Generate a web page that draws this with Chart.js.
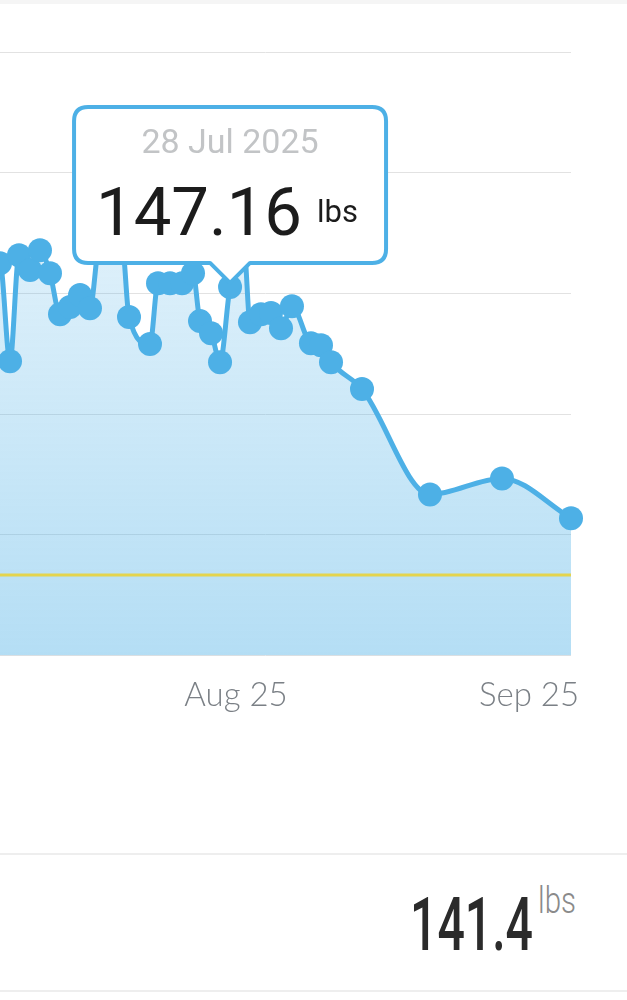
<!DOCTYPE html>
<html>
<head>
<meta charset="utf-8">
<script src="https://cdn.jsdelivr.net/npm/chart.js@4"></script>
<style>
  html, body { margin: 0; padding: 0; background: #fff; width: 627px; height: 1000px; overflow: hidden; }
  #topBand { position: absolute; left: 0; top: 0; width: 627px; height: 4px; background: #f5f5f5; }
  #chartWrap { position: absolute; left: -40px; top: 0; width: 667px; height: 740px; }
  #tip { position: absolute; left: 0; top: 0; overflow: visible; pointer-events: none; }
  .sep { position: absolute; left: 0; width: 627px; height: 2px; background: #eeeeee; }
  #current { position: absolute; left: 0; top: 860px; }
</style>
</head>
<body>
<div id="topBand"></div>
<div id="chartWrap"><canvas id="weightChart"></canvas></div>
<svg id="tip" width="627" height="400"></svg>
<div class="sep" style="top:853px"></div>
<svg id="current" width="627" height="130">
  <text id="currentValue" x="410" y="90" font-family="Roboto" font-weight="500" font-size="75" fill="#2b2b2b" textLength="123" lengthAdjust="spacingAndGlyphs"></text>
  <text x="538" y="53" font-family="Roboto" font-weight="300" font-size="36" fill="#8a8a8a" textLength="38" lengthAdjust="spacingAndGlyphs">lbs</text>
</svg>
<div class="sep" style="top:990px"></div>

<script>
// days counted from 1 Aug 2025
var days = [-26.24, -24.97, -23.91, -22.96, -21.79, -20.74, -19.68, -18.62, -17.56, -16.50,
  -15.45, -14.39, -13.12, -12.06, -11.32, -9.10, -8.25, -6.98, -5.71, -4.55,
  -3.81, -2.64, -1.69, -0.63, 0.85, 1.48, 2.64, 3.70, 4.76, 5.92,
  7.93, 8.99, 10.05, 13.33, 20.52, 28.14, 35.44]
var weights = [147.08, 147.75, 145.31, 147.95, 147.58, 148.07, 147.50, 146.48, 146.66, 146.96,
  146.63, 148.37, 148.52, 148.32, 146.41, 145.74, 147.25, 147.25, 147.25, 147.50,
  146.31, 146.01, 145.29, 147.16, 148.12, 146.28, 146.48, 146.51, 146.13, 146.68,
  145.76, 145.71, 145.29, 144.62, 142.00, 142.40, 141.41]
var goalWeight = 140
var tickDays = [0, 31]
var tickLabels = ['Aug 25', 'Sep 25']
var xMin = -29.2, xMax = 35.44
var yMin = 138, yMax = 153, yStep = 3
var tooltipIndex = 23
var tooltipDate = '28 Jul 2025'
var latestWeight = '141.4'

var blue = '#4db0e6'

function createChart() {
  const ctx = document.getElementById('weightChart')
  const points = days.map(function (d, i) { return { x: d, y: weights[i] } })

  const chart = new Chart(ctx, {
    type: 'line',
    data: {
      datasets: [
        {
          // goal line
          data: [{ x: xMin, y: goalWeight }, { x: xMax, y: goalWeight }],
          borderColor: '#e4d44e',
          borderWidth: 3,
          pointRadius: 0,
          fill: false,
        },
        {
          data: points,
          borderColor: blue,
          borderWidth: 5,
          pointRadius: 12,
          pointBackgroundColor: blue,
          pointBorderWidth: 0,
          cubicInterpolationMode: 'monotone',
          clip: false,
          fill: 'start',
          backgroundColor: function (c) {
            const area = c.chart.chartArea
            if (!area) return 'rgba(77,176,230,0.3)'
            const g = c.chart.ctx.createLinearGradient(0, area.top, 0, area.bottom)
            g.addColorStop(0, 'rgba(77,176,230,0.08)')
            g.addColorStop(1, 'rgba(77,176,230,0.42)')
            return g
          },
        },
      ],
    },
    options: {
      responsive: true,
      maintainAspectRatio: false,
      animation: false,
      events: [],
      layout: { autoPadding: false, padding: { left: 0, right: 56, top: 52, bottom: 13 } },
      scales: {
        x: {
          type: 'linear',
          min: xMin,
          max: xMax,
          grid: { display: false },
          border: { display: false },
          afterBuildTicks: function (s) {
            s.ticks = tickDays.map(function (v) { return { value: v } })
          },
          ticks: {
            autoSkip: false,
            maxRotation: 0,
            padding: 12,
            color: '#7b8086',
            font: { family: 'Lato', size: 33, weight: '300' },
            callback: function (v) { return tickLabels[tickDays.indexOf(v)] },
          },
        },
        y: {
          min: yMin,
          max: yMax,
          afterFit: function (s) { s.width = 0 },
          ticks: { stepSize: yStep, display: false },
          grid: { color: '#e2e2e2', drawTicks: false },
          border: { display: false },
        },
      },
      plugins: {
        legend: { display: false },
        tooltip: { enabled: false },
      },
    },
  })
  return chart
}

// speech-bubble label above the selected point
function drawTooltip(chart) {
  const pt = chart.getDatasetMeta(1).data[tooltipIndex]
  const offX = document.getElementById('chartWrap').offsetLeft
  const tx = pt.x + offX, ty = pt.y - 4
  const w = 312, h = 156, r = 14, cw = 20, ch = 20
  const L = tx - w / 2, R = tx + w / 2, B = ty - ch, T = B - h
  const d = 'M' + (L + r) + ' ' + T + ' H' + (R - r) + ' Q' + R + ' ' + T + ' ' + R + ' ' + (T + r) +
    ' V' + (B - r) + ' Q' + R + ' ' + B + ' ' + (R - r) + ' ' + B +
    ' H' + (tx + cw) + ' L' + tx + ' ' + ty + ' L' + (tx - cw) + ' ' + B +
    ' H' + (L + r) + ' Q' + L + ' ' + B + ' ' + L + ' ' + (B - r) +
    ' V' + (T + r) + ' Q' + L + ' ' + T + ' ' + (L + r) + ' ' + T + ' Z'
  const svg = document.getElementById('tip')
  svg.innerHTML =
    '<path d="' + d + '" fill="#fff" stroke="' + blue + '" stroke-width="4" stroke-linejoin="round"/>' +
    '<text x="' + tx + '" y="' + (T + 46) + '" text-anchor="middle" font-family="Roboto" font-size="34" fill="#c2c4c6">' + tooltipDate + '</text>' +
    '<text x="' + (L + 22) + '" y="' + (T + 128) + '" font-family="Roboto" font-size="67" fill="#1c1c1c">' + weights[tooltipIndex].toFixed(2) + '</text>' +
    '<text x="' + (L + 243) + '" y="' + (T + 115) + '" font-family="Roboto" font-size="31" fill="#1c1c1c">lbs</text>'
}

window.onload = function () {
  const chart = createChart()
  drawTooltip(chart)
  document.getElementById('currentValue').textContent = latestWeight
}
</script>
</body>
</html>
